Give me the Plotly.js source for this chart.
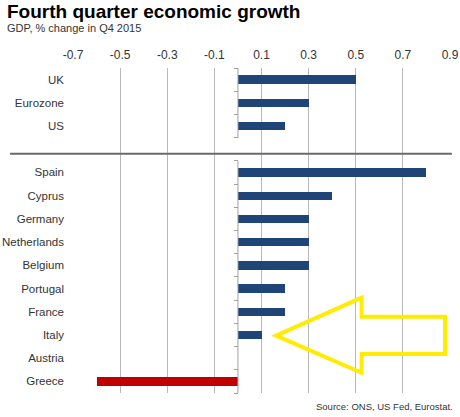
<!DOCTYPE html>
<html>
<head>
<meta charset="utf-8">
<script src="https://cdn.plot.ly/plotly-3.0.1.min.js"></script>
<style>html,body{margin:0;padding:0;background:#fff;}#chart{width:460px;height:417px;}</style>
</head>
<body>
<div id="chart"></div>
<script>
const categories = ['UK','Eurozone','US','Spain','Cyprus','Germany','Netherlands','Belgium','Portugal','France','Italy','Austria','Greece'];
const growth = [0.5, 0.3, 0.2, 0.8, 0.4, 0.3, 0.3, 0.3, 0.2, 0.2, 0.1, 0, -0.6];
const groupSizes = [3, 10];
const xTicks = [-0.7, -0.5, -0.3, -0.1, 0.1, 0.3, 0.5, 0.7, 0.9];
const xTickLabels = ['-0.7', '-0.5', '-0.3', '-0.1', '0.1', '0.3', '0.5', '0.7', '0.9'];
const titleText = 'Fourth quarter economic growth';
const subtitleText = 'GDP, % change in Q4 2015';
const sourceText = 'Source: ONS, US Fed, Eurostat.';

// positions: one empty slot between the groups
const positions = categories.map((c, i) => i < groupSizes[0] ? i : i + 1);
const colors = growth.map(v => v < 0 ? '#c00000' : '#1f4478');
const nSlots = categories.length + 1;
const boundaries = [];
for (let k = -0.5; k <= nSlots - 0.5; k += 1) boundaries.push(k);

const font = 'Liberation Sans, Arial, sans-serif';
const xMin = -0.7, xMax = 0.9;

const traces = [
  {
    type: 'bar', orientation: 'h',
    x: growth, y: positions,
    marker: {color: colors, line: {width: 0}},
    width: 0.36,
    hoverinfo: 'x+text', text: categories, textposition: 'none'
  },
  {
    type: 'scatter', mode: 'none', x: [0], y: [0], yaxis: 'y2',
    hoverinfo: 'skip', showlegend: false
  }
];

const g1 = groupSizes[0];
const shapes = [
  // y axis line in two segments
  {type: 'line', xref: 'x', yref: 'y', x0: 0, x1: 0, y0: -0.5, y1: g1 - 0.5, line: {color: '#a0a0a0', width: 1}},
  {type: 'line', xref: 'x', yref: 'y', x0: 0, x1: 0, y0: g1 + 0.5, y1: nSlots - 0.5, line: {color: '#a0a0a0', width: 1}},
  // group separator
  {type: 'line', xref: 'paper', yref: 'y', x0: -0.167, x1: 1.005, y0: g1 + 0.19, y1: g1 + 0.19, line: {color: '#6a6a6a', width: 2}},
  // yellow arrow pointing at Italy
  {type: 'path', xref: 'x', yref: 'y',
   path: 'M 0.162 11.03 L 0.525 9.39 L 0.525 10.21 L 0.879 10.21 L 0.879 11.82 L 0.525 11.82 L 0.525 12.63 Z',
   line: {color: '#ffec00', width: 4}, fillcolor: 'rgba(0,0,0,0)'}
];

const layout = {
  width: 460, height: 417,
  margin: {l: 73, r: 10, t: 68, b: 24},
  paper_bgcolor: '#ffffff', plot_bgcolor: '#ffffff',
  showlegend: false,
  bargap: 0,
  font: {family: font, color: '#333333', size: 12},
  xaxis: {
    range: [xMin, xMax], side: 'top',
    tickvals: xTicks, ticktext: xTickLabels,
    showgrid: true, gridcolor: '#b8b8b8', gridwidth: 1,
    zeroline: false, showline: false, ticks: '',
    ticklabelstandoff: 6,
    tickfont: {family: font, size: 12, color: '#333333'},
    fixedrange: true
  },
  yaxis: {
    range: [nSlots - 0.5, -0.5],
    tickvals: positions, ticktext: categories,
    showgrid: false, zeroline: false, showline: false, ticks: '',
    ticklabelstandoff: 8,
    tickfont: {family: font, size: 11.5, color: '#333333'},
    fixedrange: true
  },
  yaxis2: {
    overlaying: 'y', anchor: 'free', position: (0 - xMin) / (xMax - xMin),
    range: [nSlots - 0.5, -0.5],
    tickvals: boundaries, ticks: 'outside', ticklen: 4, tickcolor: '#a0a0a0', tickwidth: 1,
    showticklabels: false, showgrid: false, zeroline: false, showline: false,
    fixedrange: true
  },
  shapes: shapes,
  annotations: [
    {text: '<b>' + titleText + '</b>', xref: 'paper', yref: 'paper', x: -0.1804, y: 1.174,
     xanchor: 'left', yanchor: 'middle', showarrow: false,
     font: {family: font, size: 19, color: '#000000'}},
    {text: subtitleText, xref: 'paper', yref: 'paper', x: -0.1804, y: 1.124,
     xanchor: 'left', yanchor: 'middle', showarrow: false,
     font: {family: font, size: 11, color: '#333333'}},
    {text: sourceText, xref: 'paper', yref: 'paper', x: 1.0133, y: -0.043,
     xanchor: 'right', yanchor: 'middle', showarrow: false,
     font: {family: font, size: 9.5, color: '#333333'}}
  ]
};

Plotly.newPlot('chart', traces, layout, {displayModeBar: false, staticPlot: true});
</script>
</body>
</html>
